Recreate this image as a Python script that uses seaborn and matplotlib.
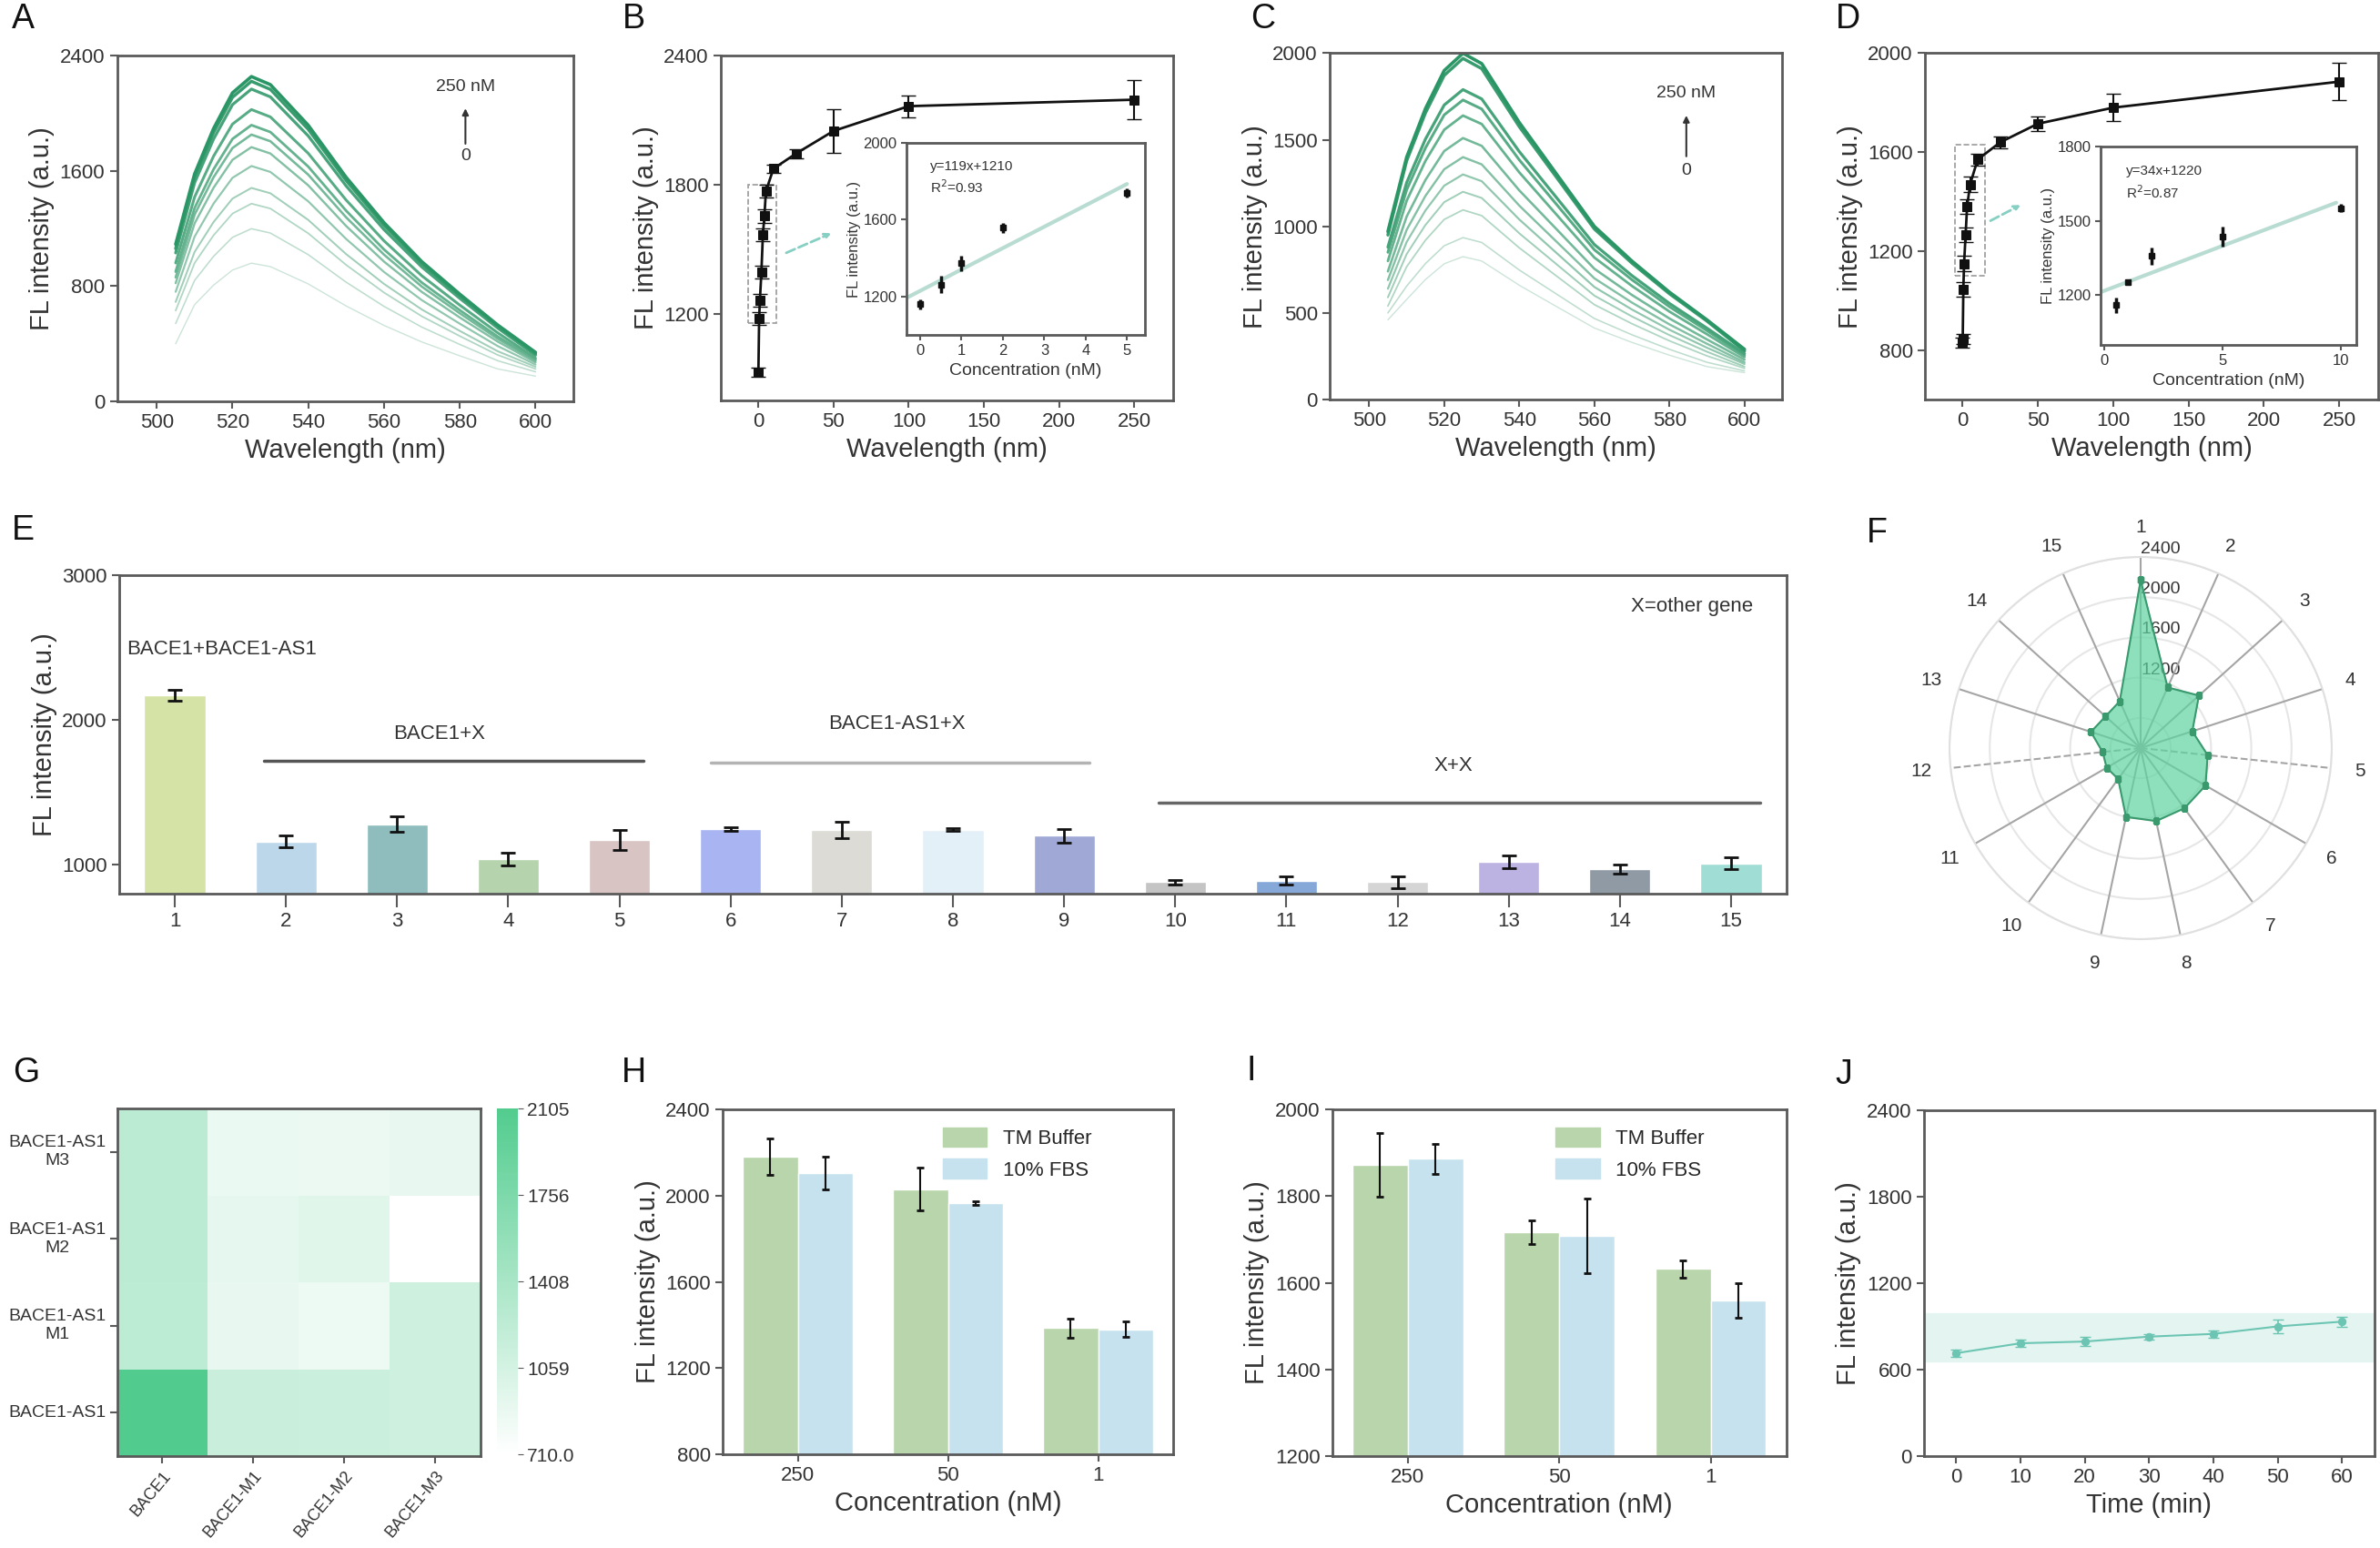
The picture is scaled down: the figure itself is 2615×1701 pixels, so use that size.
import numpy as np
import pandas as pd
import matplotlib
matplotlib.use('Agg')
import matplotlib.pyplot as plt
import seaborn as sns
from matplotlib.colors import LinearSegmentedColormap
from matplotlib.patches import Rectangle, Patch

sns.set_style('ticks')
plt.rcParams['font.family'] = ['Liberation Sans', 'DejaVu Sans']

# ---------------- data ----------------
wl = [505, 510, 515, 520, 525, 530, 540, 550, 560, 570, 580, 590, 600]

# panel A spectra, 0 nM (lowest) -> 250 nM (highest)
spec_a = [
    [400, 671, 806, 911, 959, 935, 815, 662, 527, 412, 316, 225, 175],
    [540, 839, 1006, 1138, 1198, 1168, 1018, 827, 659, 515, 395, 282, 205],
    [630, 960, 1152, 1303, 1372, 1338, 1166, 947, 755, 590, 453, 322, 225],
    [690, 1037, 1244, 1407, 1481, 1444, 1259, 1022, 815, 637, 489, 348, 240],
    [760, 1143, 1372, 1551, 1633, 1592, 1388, 1127, 898, 702, 539, 384, 255],
    [820, 1235, 1482, 1676, 1764, 1720, 1499, 1217, 970, 759, 582, 415, 270],
    [860, 1296, 1555, 1758, 1851, 1805, 1573, 1277, 1018, 796, 611, 435, 280],
    [900, 1342, 1610, 1821, 1917, 1869, 1629, 1323, 1054, 824, 633, 450, 290],
    [960, 1418, 1701, 1924, 2025, 1974, 1721, 1397, 1114, 871, 668, 476, 300],
    [1030, 1517, 1820, 2059, 2167, 2113, 1842, 1495, 1192, 932, 715, 509, 320],
    [1060, 1555, 1866, 2110, 2221, 2165, 1888, 1532, 1222, 955, 733, 522, 330],
    [1090, 1578, 1893, 2141, 2254, 2198, 1916, 1555, 1240, 969, 744, 530, 340],
]

# panel C spectra
spec_c = [
    [460, 578, 693, 784, 825, 800, 660, 536, 413, 330, 256, 190, 155],
    [500, 655, 785, 888, 935, 907, 748, 608, 468, 374, 290, 215, 165],
    [540, 767, 920, 1040, 1095, 1062, 876, 712, 548, 438, 339, 252, 180],
    [590, 840, 1008, 1140, 1200, 1164, 960, 780, 600, 480, 372, 276, 190],
    [640, 910, 1092, 1235, 1300, 1261, 1040, 845, 650, 520, 403, 299, 205],
    [690, 980, 1176, 1330, 1400, 1358, 1120, 910, 700, 560, 434, 322, 215],
    [740, 1057, 1268, 1435, 1510, 1465, 1208, 982, 755, 604, 468, 347, 230],
    [800, 1148, 1378, 1558, 1640, 1591, 1312, 1066, 820, 656, 508, 377, 245],
    [850, 1211, 1453, 1644, 1730, 1678, 1384, 1125, 865, 692, 536, 398, 255],
    [880, 1253, 1504, 1701, 1790, 1736, 1432, 1164, 895, 716, 555, 412, 265],
    [950, 1379, 1655, 1872, 1970, 1911, 1576, 1281, 985, 788, 611, 453, 280],
    [970, 1400, 1680, 1900, 2000, 1940, 1600, 1300, 1000, 800, 620, 460, 290],
]

# panel B titration
conc_b = [0, 0.5, 1, 2, 3, 4, 5, 10, 25, 50, 100, 250]
fl_b = [930, 1180, 1265, 1395, 1570, 1655, 1770, 1875, 1945, 2050, 2165, 2195]
err_b = [20, 30, 30, 30, 30, 30, 30, 20, 20, 100, 50, 90]
conc_bi = [0, 0.5, 1, 2, 5]
fl_bi = [1160, 1263, 1374, 1557, 1740]
err_bi = [25, 45, 40, 25, 25]

# panel D titration
conc_d = [0, 0.1, 0.5, 1, 2, 3, 5, 10, 25, 50, 100, 250]
fl_d = [830, 845, 1045, 1150, 1265, 1380, 1470, 1570, 1640, 1715, 1780, 1885]
err_d = [20, 20, 30, 30, 30, 30, 30, 25, 25, 30, 55, 75]
conc_di = [0.5, 1, 2, 5, 10]
fl_di = [1160, 1255, 1358, 1437, 1552]
err_di = [30, 10, 35, 40, 15]

# panel E / F selectivity
lanes_e = list(range(1, 16))
vals_e = [2170, 1160, 1280, 1040, 1170, 1245, 1240, 1242, 1200, 880, 890, 880, 1020, 970, 1010]
err_e = [35, 40, 55, 45, 70, 12, 55, 10, 45, 15, 30, 40, 45, 30, 40]
colors_e = ['#d5e3a6', '#bdd7ea', '#8fbcbc', '#b5d4ae', '#d9c4c4', '#a9b5f2', '#dcdbd5',
            '#e4f0f8', '#a0a9d6', '#c4c4c4', '#86a8d8', '#d5d5d5', '#bdb3e3', '#8f9aa5', '#a0ddd4']

# panel G heatmap
g_rows = ['BACE1-AS1\nM3', 'BACE1-AS1\nM2', 'BACE1-AS1\nM1', 'BACE1-AS1']
g_cols = ['BACE1', 'BACE1-M1', 'BACE1-M2', 'BACE1-M3']
g_vals = [[1250, 880, 870, 900],
          [1250, 920, 960, 710],
          [1240, 900, 860, 1110],
          [2105, 1150, 1140, 1110]]
g_cbar_labels = ['710.0', '1059', '1408', '1756', '2105']

# panels H / I
conc_hi = ['250', '50', '1']
tm_h = [2180, 2030, 1385]
fbs_h = [2105, 1965, 1380]
err_tm_h = [85, 100, 45]
err_fbs_h = [75, 10, 35]
tm_i = [1872, 1716, 1632]
fbs_i = [1886, 1708, 1560]
err_tm_i = [73, 27, 20]
err_fbs_i = [35, 86, 40]

# panel J stability
time_j = [0, 10, 20, 30, 40, 50, 60]
fl_j = [714, 783, 795, 829, 848, 900, 933]
err_j = [25, 25, 30, 20, 25, 50, 35]

# ---------------- figure ----------------
W, H = 2615, 1701
fig = plt.figure(figsize=(W / 100, H / 100), dpi=100)


def box(x0, y0, x1, y1):
    return [x0 / W, 1 - y1 / H, (x1 - x0) / W, (y1 - y0) / H]


SP = '#5a5a5a'
TXT = '#333333'
LAB = 21


def style(ax, size=16):
    for s in ax.spines.values():
        s.set_color(SP)
        s.set_linewidth(2)
    ax.tick_params(direction='out', length=6, width=1.5, color=SP,
                   labelsize=size, labelcolor=TXT)


def spectra(ax, curves, ylim, yticks, xa, yt, ya0, ya1, y0):
    pal = sns.light_palette('#2a9565', n_colors=len(curves) + 2)[2:]
    n = len(curves)
    for i, c in enumerate(curves):
        sns.lineplot(x=wl, y=c, ax=ax, color=pal[i], lw=1.0 + 1.6 * i / (n - 1),
                     legend=False, sort=False)
    ax.set_xlim(489.5, 610)
    ax.set_ylim(*ylim)
    ax.set_yticks(yticks)
    ax.set_xticks([500, 520, 540, 560, 580, 600])
    ax.set_xlabel('Wavelength (nm)', fontsize=LAB, color=TXT)
    ax.set_ylabel('FL intensity (a.u.)', fontsize=LAB, color=TXT)
    ax.text(xa, yt, '250 nM', ha='center', va='center', fontsize=14, color=TXT)
    ax.annotate('', xy=(xa, ya1), xytext=(xa, ya0),
                arrowprops=dict(arrowstyle='-|>', color=TXT, lw=1.5))
    ax.text(xa, y0, '0', ha='center', va='center', fontsize=14, color=TXT)
    style(ax)


def titration(ax, conc, fl, err, ylim, yticks, rect, arr):
    sns.lineplot(x=conc, y=fl, ax=ax, color='#111111', marker='s', markersize=7,
                 lw=2, legend=False, markeredgecolor='#111111')
    ax.errorbar(conc, fl, yerr=err, fmt='none', ecolor='#111111', capsize=6, elinewidth=1.5)
    ax.set_xlim(-25, 276)
    ax.set_ylim(*ylim)
    ax.set_yticks(yticks)
    ax.set_xticks([0, 50, 100, 150, 200, 250])
    ax.add_patch(Rectangle(rect[0], rect[1], rect[2], fill=False, ls='--', ec='#9a9a9a', lw=1.2))
    ax.annotate('', xy=arr[1], xytext=arr[0],
                arrowprops=dict(arrowstyle='->', ls='--', color='#86cfc3', lw=2))
    ax.set_xlabel('Wavelength (nm)', fontsize=LAB, color=TXT)
    ax.set_ylabel('FL intensity (a.u.)', fontsize=LAB, color=TXT)
    style(ax)


def inset(ax, conc, fl, err, xlim, ylim, yticks, xticks, eq):
    k, b = np.polyfit(conc, fl, 1)
    xs = np.array(xlim) * 0.92
    ax.plot(xs, k * xs + b, color='#b9dcd2', lw=3, zorder=1)
    ax.errorbar(conc, fl, yerr=err, fmt='s', color='#111111', ms=5, capsize=0,
                elinewidth=2.5, zorder=3)
    ax.set_xlim(*xlim)
    ax.set_ylim(*ylim)
    ax.set_yticks(yticks)
    ax.set_xticks(xticks)
    ax.text(0.1, 0.86, eq[0], transform=ax.transAxes, fontsize=11, color=TXT)
    ax.text(0.1, 0.74, eq[1], transform=ax.transAxes, fontsize=11, color=TXT)
    ax.set_xlabel('Concentration (nM)', fontsize=14, color=TXT)
    ax.set_ylabel('FL intensity (a.u.)', fontsize=12, color=TXT, labelpad=2)
    style(ax, size=12)
    ax.tick_params(length=4)


# ---- A ----
axA = fig.add_axes(box(128.5, 61, 630, 441))
spectra(axA, spec_a, (0, 2400), [0, 800, 1600, 2400], 581.5, 2185, 1770, 2050, 1700)

# ---- B ----
axB = fig.add_axes(box(792, 61, 1289, 440))
titration(axB, conc_b, fl_b, err_b, (800, 2400), [1200, 1800, 2400],
          ((-7, 1160), 19, 640), ((17, 1480), (50, 1580)))
axBi = fig.add_axes(box(996, 157, 1258, 368))
inset(axBi, conc_bi, fl_bi, err_bi, (-0.33, 5.43), (1000, 2000), [1200, 1600, 2000],
      [0, 1, 2, 3, 4, 5], ('y=119x+1210', 'R$^2$=0.93'))

# ---- C ----
axC = fig.add_axes(box(1461, 58.5, 1958, 439))
spectra(axC, spec_c, (0, 2000), [0, 500, 1000, 1500, 2000], 584.5, 1771, 1390, 1655, 1320)

# ---- D ----
axD = fig.add_axes(box(2115, 58.5, 2613, 439))
titration(axD, conc_d, fl_d, err_d, (600, 2000), [800, 1200, 1600, 2000],
          ((-5, 1100), 20, 530), ((17, 1318), (40, 1391)))
axDi = fig.add_axes(box(2308, 161, 2589, 379))
inset(axDi, conc_di, fl_di, err_di, (-0.16, 10.66), (1000, 1800), [1200, 1500, 1800],
      [0, 5, 10], ('y=34x+1220', 'R$^2$=0.87'))

# ---- E ----
axE = fig.add_axes(box(131, 632, 1963, 982))
dfE = pd.DataFrame({'lane': [str(v) for v in lanes_e], 'fl': vals_e})
sns.barplot(data=dfE, x='lane', y='fl', hue='lane', palette=colors_e, width=0.55,
            saturation=1, legend=False, ax=axE)
axE.errorbar(range(len(lanes_e)), vals_e, yerr=err_e, fmt='none', ecolor='#111111',
             capsize=6, elinewidth=2, capthick=2)
axE.set_xlim(-0.5, 14.5)
axE.set_ylim(800, 3000)
axE.set_yticks([1000, 2000, 3000])
axE.set_xlabel('')
axE.set_ylabel('FL intensity (a.u.)', fontsize=LAB, color=TXT)
style(axE)
axE.tick_params(axis='x', length=11)
ann = dict(fontsize=16, color=TXT, va='center')
axE.text(-0.43, 2490, 'BACE1+BACE1-AS1', ha='left', **ann)
axE.text(2.38, 1902, 'BACE1+X', ha='center', **ann)
axE.plot([0.80, 4.22], [1716, 1716], color='#555555', lw=2.5)
axE.text(6.5, 1970, 'BACE1-AS1+X', ha='center', **ann)
axE.plot([4.82, 8.23], [1706, 1706], color='#b3b3b3', lw=2.5)
axE.text(11.5, 1686, 'X+X', ha='center', **ann)
axE.plot([8.85, 14.26], [1431, 1431], color='#666666', lw=2.5)
axE.text(14.2, 2784, 'X=other gene', ha='right', **ann)

# ---- F (radar) ----
cx, cy, rr = 2352, 822, 210
axF = fig.add_axes(box(cx - rr, cy - rr, cx + rr, cy + rr), projection='polar')
axF.set_theta_offset(np.pi / 2)
axF.set_theta_direction(-1)
ang = np.linspace(0, 2 * np.pi, len(lanes_e), endpoint=False)
axF.set_ylim(500, 2400)
axF.set_xticks([])
axF.set_rgrids([800, 1200, 1600, 2000, 2400], labels=['', '1200', '1600', '2000', '2400'],
               angle=0, fontsize=14, color=TXT)
axF.yaxis.grid(True, color='#e6e6e6', lw=1.5)
axF.spines['polar'].set_color('#e0e0e0')
axF.spines['polar'].set_linewidth(1.5)
for a, lab in zip(ang, lanes_e):
    axF.plot([a, a], [500, 2400], color='#a5a5a5', lw=1.5,
             ls='--' if lab in (5, 12) else '-', zorder=1)
    axF.text(a, 2690, str(lab), ha='center', va='center', fontsize=15, color=TXT)
th = np.append(ang, ang[0])
rv = np.append(vals_e, vals_e[0])
axF.fill(th, rv, color='#5fd3a0', alpha=0.7, zorder=2)
axF.plot(th, rv, color='#3a9a6e', lw=1.5, marker='s', ms=4, zorder=3)
axF.set_facecolor('none')

# ---- G (heatmap) ----
axG = fig.add_axes(box(128.5, 1218, 528, 1600))
cax = fig.add_axes(box(545.6, 1218, 568.5, 1598))
dfG = pd.DataFrame(g_vals, index=g_rows, columns=g_cols)
cmap = LinearSegmentedColormap.from_list('wg', ['#ffffff', '#52cc8e'])
sns.heatmap(dfG, ax=axG, cbar_ax=cax, cmap=cmap, vmin=710, vmax=2105)
cax.set_yticks(np.linspace(710, 2105, len(g_cbar_labels)))
cax.set_yticklabels(g_cbar_labels)
cax.tick_params(labelsize=15, labelcolor=TXT, length=4, color=SP)
for s in axG.spines.values():
    s.set_visible(True)
style(axG, size=14)
axG.set_yticklabels(g_rows, rotation=0, ha='center', multialignment='center')
axG.tick_params(axis='y', pad=41)
axG.set_xticklabels(g_cols, rotation=50, ha='right', rotation_mode='anchor', fontsize=13)
axG.set_xlabel('')
axG.set_ylabel('')

# ---- H / I ----
green, blue = '#b8d5ab', '#c6e2ef'


def grouped(ax, tm, fbs, etm, efbs, ylim, yticks):
    df = pd.DataFrame({'conc': conc_hi * 2,
                       'cond': ['TM Buffer'] * len(tm) + ['10% FBS'] * len(fbs),
                       'fl': tm + fbs})
    sns.barplot(data=df, x='conc', y='fl', hue='cond', order=conc_hi,
                palette=[green, blue], width=0.73, saturation=1, legend=False, ax=ax)
    for cont, vals, err in zip(ax.containers, [tm, fbs], [etm, efbs]):
        xs = [p.get_x() + p.get_width() / 2 for p in cont]
        ax.errorbar(xs, vals, yerr=err, fmt='none', ecolor='#111111', capsize=3,
                    elinewidth=1.5, capthick=2)
    ax.set_xlim(-0.5, 2.5)
    ax.set_ylim(*ylim)
    ax.set_yticks(yticks)
    ax.set_xlabel('Concentration (nM)', fontsize=LAB, color=TXT)
    ax.set_ylabel('FL intensity (a.u.)', fontsize=LAB, color=TXT)
    ax.legend(handles=[Patch(color=green, label='TM Buffer'), Patch(color=blue, label='10% FBS')],
              frameon=False, loc='upper right', bbox_to_anchor=(0.86, 1.0), fontsize=16,
              handlelength=2.2, handleheight=1.1)
    style(ax)


axH = fig.add_axes(box(794, 1219, 1289, 1598))
grouped(axH, tm_h, fbs_h, err_tm_h, err_fbs_h, (800, 2400), [800, 1200, 1600, 2000, 2400])
axI = fig.add_axes(box(1463.6, 1219, 1962.8, 1600))
grouped(axI, tm_i, fbs_i, err_tm_i, err_fbs_i, (1200, 2000), [1200, 1400, 1600, 1800, 2000])

# ---- J ----
axJ = fig.add_axes(box(2113.8, 1220, 2608.7, 1600))
axJ.axhspan(660, 990, color='#e4f5f1', zorder=0)
sns.lineplot(x=time_j, y=fl_j, ax=axJ, color='#6cc5b3', marker='o', markersize=6, lw=1.5,
             legend=False, markeredgecolor='#6cc5b3')
axJ.errorbar(time_j, fl_j, yerr=err_j, fmt='none', ecolor='#6cc5b3', capsize=4, elinewidth=1.2)
axJ.set_xlim(-5, 65)
axJ.set_ylim(0, 2400)
axJ.set_yticks([0, 600, 1200, 1800, 2400])
axJ.set_xticks(time_j)
axJ.set_xlabel('Time (min)', fontsize=LAB, color=TXT)
axJ.set_ylabel('FL intensity (a.u.)', fontsize=LAB, color=TXT)
style(axJ)

# ---- panel letters ----
for lab, x, y in [('A', 25, 21), ('B', 696, 21), ('C', 1388, 21), ('D', 2030, 21),
                  ('E', 25, 583), ('F', 2062, 586), ('G', 29, 1179), ('H', 696, 1179),
                  ('I', 1375, 1177), ('J', 2026, 1181)]:
    fig.text(x / W, 1 - y / H, lab, ha='center', va='center', fontsize=27, color='#111111')

fig.savefig('out.png', dpi=100)
